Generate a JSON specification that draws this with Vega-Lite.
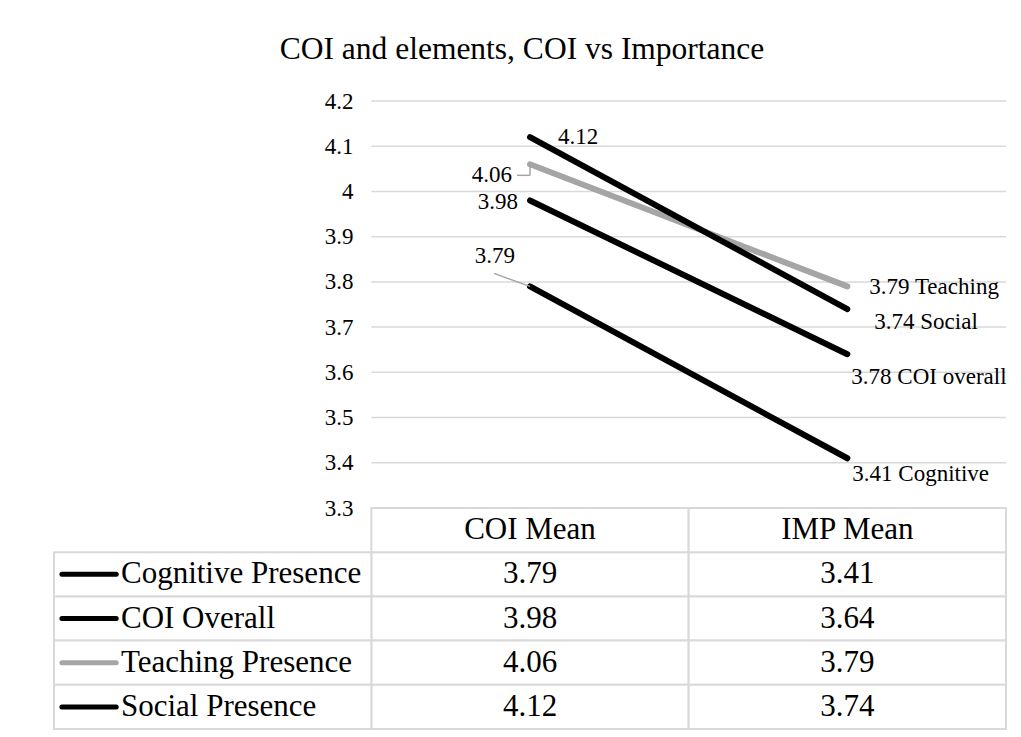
{
  "$schema": "https://vega.github.io/schema/vega-lite/v6.json",
  "background": "white",
  "padding": {"left": 53, "top": 34, "right": 0, "bottom": 0},
  "title": {"text": "COI and elements, COI vs Importance", "fontSize": 31.5, "font": "Liberation Serif", "fontWeight": "normal", "color": "#000", "anchor": "middle", "offset": 24.5, "dx": -8},
  "spacing": 0,
  "bounds": "flush",
  "datasets": {
    "scores": [
      {"series": "Cognitive Presence", "measure": "COI Mean", "value": 3.79, "label": "3.79"},
      {"series": "Cognitive Presence", "measure": "IMP Mean", "value": 3.41, "label": "3.41 Cognitive"},
      {"series": "COI Overall", "measure": "COI Mean", "value": 3.98, "label": "3.98"},
      {"series": "COI Overall", "measure": "IMP Mean", "value": 3.64, "label": "3.78 COI overall"},
      {"series": "Teaching Presence", "measure": "COI Mean", "value": 4.06, "label": "4.06"},
      {"series": "Teaching Presence", "measure": "IMP Mean", "value": 3.79, "label": "3.79 Teaching"},
      {"series": "Social Presence", "measure": "COI Mean", "value": 4.12, "label": "4.12"},
      {"series": "Social Presence", "measure": "IMP Mean", "value": 3.74, "label": "3.74 Social"}
    ],
    "ticks": [{"v": 3.3}, {"v": 3.4}, {"v": 3.5}, {"v": 3.6}, {"v": 3.7}, {"v": 3.8}, {"v": 3.9}, {"v": 4.0}, {"v": 4.1}, {"v": 4.2}]
  },
  "vconcat": [
    {
      "width": 952,
      "height": 407,
      "layer": [
        {
          "data": {"name": "ticks"},
          "mark": {"type": "rule", "color": "#d9d9d9", "strokeWidth": 1.5},
          "encoding": {
            "x": {"datum": "COI Mean", "type": "nominal", "bandPosition": 0, "scale": {"type": "band", "domain": ["label", "COI Mean", "IMP Mean"], "paddingInner": 0, "paddingOuter": 0}, "axis": null},
            "x2": {"datum": "IMP Mean", "bandPosition": 1},
            "y": {"field": "v", "type": "quantitative", "scale": {"domain": [3.3, 4.2], "nice": false, "zero": false},
              "axis": {"values": [3.3, 3.4, 3.5, 3.6, 3.7, 3.8, 3.9, 4.0, 4.1, 4.2], "format": "~g", "offset": -317, "domain": false, "ticks": false, "grid": false, "labelPadding": 18, "labelFontSize": 23, "labelFont": "Liberation Serif", "labelColor": "#000", "title": null}}
          }
        },
        {
          "data": {"name": "scores"},
          "mark": {"type": "line", "strokeWidth": 6, "strokeCap": "round"},
          "encoding": {
            "x": {"field": "measure", "type": "nominal", "axis": null},
            "y": {"field": "value", "type": "quantitative"},
            "color": {"field": "series", "type": "nominal", "legend": null,
              "scale": {"domain": ["Cognitive Presence", "COI Overall", "Teaching Presence", "Social Presence"], "range": ["#000000", "#000000", "#a5a5a5", "#000000"]}}
          }
        },
        {
          "data": {"name": "scores"},
          "transform": [{"filter": "datum.series === 'Cognitive Presence' && datum.measure === 'COI Mean'"}],
          "mark": {"type": "rule", "color": "#a5a5a5", "strokeWidth": 1.5, "x2Offset": -36, "y2Offset": -13},
          "encoding": {
            "x": {"field": "measure", "type": "nominal", "bandPosition": 0.5},
            "x2": {"field": "measure", "bandPosition": 0.5},
            "y": {"field": "value", "type": "quantitative"},
            "y2": {"field": "value"}
          }
        },
        {
          "data": {"name": "scores"},
          "transform": [{"filter": "datum.series === 'Teaching Presence' && datum.measure === 'COI Mean'"}],
          "mark": {"type": "rule", "color": "#a5a5a5", "strokeWidth": 1.5, "y2Offset": 11},
          "encoding": {
            "x": {"field": "measure", "type": "nominal", "bandPosition": 0.5},
            "x2": {"field": "measure", "bandPosition": 0.5},
            "y": {"field": "value", "type": "quantitative"},
            "y2": {"field": "value"}
          }
        },
        {
          "data": {"name": "scores"},
          "transform": [{"filter": "datum.series === 'Teaching Presence' && datum.measure === 'COI Mean'"}],
          "mark": {"type": "rule", "color": "#a5a5a5", "strokeWidth": 1.5, "x2Offset": -13, "yOffset": 11, "y2Offset": 11},
          "encoding": {
            "x": {"field": "measure", "type": "nominal", "bandPosition": 0.5},
            "x2": {"field": "measure", "bandPosition": 0.5},
            "y": {"field": "value", "type": "quantitative"},
            "y2": {"field": "value"}
          }
        },
        {
          "data": {"name": "scores"},
          "transform": [{"filter": "datum.series === 'Social Presence' && datum.measure === 'COI Mean'"}],
          "mark": {"type": "text", "align": "left", "baseline": "middle", "dx": 28, "dy": 0, "fontSize": 23, "font": "Liberation Serif", "color": "#000"},
          "encoding": {"x": {"field": "measure", "type": "nominal"}, "y": {"field": "value", "type": "quantitative"}, "text": {"field": "label"}}
        },
        {
          "data": {"name": "scores"},
          "transform": [{"filter": "datum.series === 'Teaching Presence' && datum.measure === 'COI Mean'"}],
          "mark": {"type": "text", "align": "right", "baseline": "middle", "dx": -18, "dy": 11, "fontSize": 23, "font": "Liberation Serif", "color": "#000"},
          "encoding": {"x": {"field": "measure", "type": "nominal"}, "y": {"field": "value", "type": "quantitative"}, "text": {"field": "label"}}
        },
        {
          "data": {"name": "scores"},
          "transform": [{"filter": "datum.series === 'COI Overall' && datum.measure === 'COI Mean'"}],
          "mark": {"type": "text", "align": "right", "baseline": "middle", "dx": -12, "dy": 2, "fontSize": 23, "font": "Liberation Serif", "color": "#000"},
          "encoding": {"x": {"field": "measure", "type": "nominal"}, "y": {"field": "value", "type": "quantitative"}, "text": {"field": "label"}}
        },
        {
          "data": {"name": "scores"},
          "transform": [{"filter": "datum.series === 'Cognitive Presence' && datum.measure === 'COI Mean'"}],
          "mark": {"type": "text", "align": "right", "baseline": "middle", "dx": -15, "dy": -30, "fontSize": 23, "font": "Liberation Serif", "color": "#000"},
          "encoding": {"x": {"field": "measure", "type": "nominal"}, "y": {"field": "value", "type": "quantitative"}, "text": {"field": "label"}}
        },
        {
          "data": {"name": "scores"},
          "transform": [{"filter": "datum.series === 'Teaching Presence' && datum.measure === 'IMP Mean'"}],
          "mark": {"type": "text", "align": "left", "baseline": "middle", "dx": 22, "dy": 1, "fontSize": 23, "font": "Liberation Serif", "color": "#000"},
          "encoding": {"x": {"field": "measure", "type": "nominal"}, "y": {"field": "value", "type": "quantitative"}, "text": {"field": "label"}}
        },
        {
          "data": {"name": "scores"},
          "transform": [{"filter": "datum.series === 'Social Presence' && datum.measure === 'IMP Mean'"}],
          "mark": {"type": "text", "align": "left", "baseline": "middle", "dx": 27, "dy": 13, "fontSize": 23, "font": "Liberation Serif", "color": "#000"},
          "encoding": {"x": {"field": "measure", "type": "nominal"}, "y": {"field": "value", "type": "quantitative"}, "text": {"field": "label"}}
        },
        {
          "data": {"name": "scores"},
          "transform": [{"filter": "datum.series === 'COI Overall' && datum.measure === 'IMP Mean'"}],
          "mark": {"type": "text", "align": "left", "baseline": "middle", "dx": 4, "dy": 23, "fontSize": 23, "font": "Liberation Serif", "color": "#000"},
          "encoding": {"x": {"field": "measure", "type": "nominal"}, "y": {"field": "value", "type": "quantitative"}, "text": {"field": "label"}}
        },
        {
          "data": {"name": "scores"},
          "transform": [{"filter": "datum.series === 'Cognitive Presence' && datum.measure === 'IMP Mean'"}],
          "mark": {"type": "text", "align": "left", "baseline": "middle", "dx": 5, "dy": 16, "fontSize": 23, "font": "Liberation Serif", "color": "#000"},
          "encoding": {"x": {"field": "measure", "type": "nominal"}, "y": {"field": "value", "type": "quantitative"}, "text": {"field": "label"}}
        }
      ]
    },
    {
      "width": 952,
      "height": 221,
      "data": {"name": "scores"},
      "layer": [
        {
          "mark": {"type": "rect", "fill": "white", "stroke": "#d9d9d9", "strokeWidth": 2},
          "encoding": {
            "x": {"field": "measure", "type": "nominal", "axis": null, "scale": {"type": "band", "domain": ["label", "COI Mean", "IMP Mean"], "paddingInner": 0, "paddingOuter": 0}},
            "y": {"field": "series", "type": "nominal", "axis": null, "scale": {"type": "band", "domain": ["header", "Cognitive Presence", "COI Overall", "Teaching Presence", "Social Presence"], "paddingInner": 0, "paddingOuter": 0}}
          }
        },
        {
          "transform": [{"filter": "datum.measure === 'COI Mean'"}],
          "mark": {"type": "rect", "fill": "white", "stroke": "#d9d9d9", "strokeWidth": 2},
          "encoding": {
            "x": {"datum": "label", "type": "nominal"},
            "y": {"field": "series", "type": "nominal"}
          }
        },
        {
          "transform": [{"filter": "datum.series === 'Social Presence'"}],
          "mark": {"type": "rect", "fill": "white", "stroke": "#d9d9d9", "strokeWidth": 2},
          "encoding": {
            "x": {"field": "measure", "type": "nominal"},
            "y": {"datum": "header", "type": "nominal"}
          }
        },
        {
          "transform": [{"filter": "datum.series === 'Social Presence'"}],
          "mark": {"type": "text", "baseline": "middle", "align": "center", "fontSize": 31, "font": "Liberation Serif", "color": "#000"},
          "encoding": {
            "x": {"field": "measure", "type": "nominal"},
            "y": {"datum": "header", "type": "nominal"},
            "text": {"field": "measure"}
          }
        },
        {
          "mark": {"type": "text", "baseline": "middle", "align": "center", "fontSize": 31, "font": "Liberation Serif", "color": "#000"},
          "encoding": {
            "x": {"field": "measure", "type": "nominal"},
            "y": {"field": "series", "type": "nominal"},
            "text": {"field": "value", "format": ".2f"}
          }
        },
        {
          "transform": [{"filter": "datum.measure === 'COI Mean'"}],
          "mark": {"type": "text", "baseline": "middle", "align": "left", "fontSize": 31, "font": "Liberation Serif", "color": "#000"},
          "encoding": {
            "x": {"datum": "label", "type": "nominal", "bandPosition": 0.211},
            "y": {"field": "series", "type": "nominal"},
            "text": {"field": "series"}
          }
        },
        {
          "transform": [{"filter": "datum.measure === 'COI Mean'"}],
          "mark": {"type": "rule", "strokeWidth": 5, "strokeCap": "round"},
          "encoding": {
            "x": {"datum": "label", "type": "nominal", "bandPosition": 0.025},
            "x2": {"datum": "label", "bandPosition": 0.196},
            "y": {"field": "series", "type": "nominal"},
            "color": {"field": "series", "type": "nominal", "legend": null,
              "scale": {"domain": ["Cognitive Presence", "COI Overall", "Teaching Presence", "Social Presence"], "range": ["#000000", "#000000", "#a5a5a5", "#000000"]}}
          }
        }
      ]
    }
  ],
  "config": {
    "view": {"stroke": null},
    "font": "Liberation Serif",
    "concat": {"spacing": 0}
  }
}
